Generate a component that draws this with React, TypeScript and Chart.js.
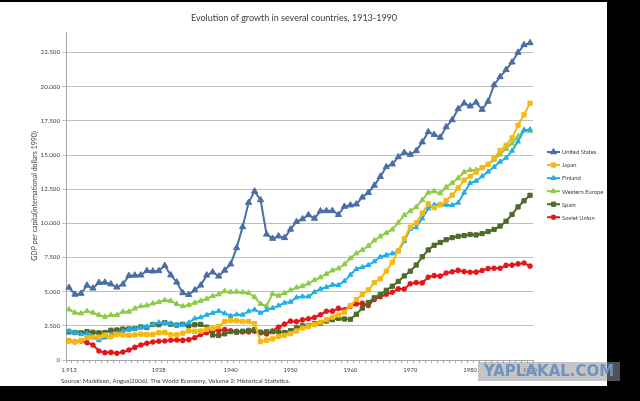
import React, { useEffect, useRef } from "react";
import { Chart, registerables } from "chart.js";
import { drawPoint } from "chart.js/helpers";

Chart.register(...registerables);

const YEARS = [
  1913, 1914, 1915, 1916, 1917, 1918, 1919, 1920, 1921, 1922,
  1923, 1924, 1925, 1926, 1927, 1928, 1929, 1930, 1931, 1932,
  1933, 1934, 1935, 1936, 1937, 1938, 1939, 1940, 1941, 1942,
  1943, 1944, 1945, 1946, 1947, 1948, 1949, 1950, 1951, 1952,
  1953, 1954, 1955, 1956, 1957, 1958, 1959, 1960, 1961, 1962,
  1963, 1964, 1965, 1966, 1967, 1968, 1969, 1970, 1971, 1972,
  1973, 1974, 1975, 1976, 1977, 1978, 1979, 1980, 1981, 1982,
  1983, 1984, 1985, 1986, 1987, 1988, 1989, 1990,
];

const X_TICK_YEARS = [1913, 1928, 1940, 1950, 1960, 1970, 1980, 1990];
const X_TICK_TEXT = ["1.913", "1928", "1940", "1950", "1960", "1970", "1980", "1990"];
const Y_TICKS = [0, 2500, 5000, 7500, 10000, 12500, 15000, 17500, 20000, 22500];

const TITLE = "Evolution of growth in several countries, 1913-1990";
const Y_TITLE = "GDP per capita(international dollars 1990)";
const SOURCE = "Source: Maddison, Angus(2006). The World Economy, Volume 2: Historical Statistics.";

const SERIES_NAMES = ["United States", "Japan", "Finland", "Western Europe", "Spain", "Soviet Union"];

const UNITED_STATES = [
  5301, 4799, 4864, 5459, 5248, 5659, 5680, 5552, 5323, 5540,
  6164, 6195, 6205, 6534, 6497, 6523, 6899, 6213, 5691, 4908,
  4777, 5114, 5467, 6204, 6430, 6126, 6561, 7010, 8206, 9741,
  11518, 12341, 11709, 9197, 8886, 9065, 8944, 9561, 10116, 10316,
  10613, 10359, 10897, 10914, 10920, 10631, 11230, 11328, 11402, 11905,
  12242, 12773, 13419, 14134, 14330, 14863, 15179, 15030, 15304, 15944,
  16689, 16491, 16284, 17052, 17567, 18373, 18789, 18577, 18856, 18325,
  18920, 20123, 20717, 21236, 21788, 22499, 23059, 23201,
];

const JAPAN = [
  1387, 1327, 1430, 1630, 1665, 1668, 1827, 1696, 1860, 1831,
  1809, 1829, 1885, 1872, 1870, 1992, 2026, 1850, 1837, 1962,
  2122, 2098, 2120, 2244, 2315, 2449, 2816, 2874, 2873, 2818,
  2822, 2659, 1346, 1444, 1541, 1725, 1800, 1921, 2126, 2336,
  2474, 2582, 2771, 2948, 3136, 3289, 3500, 3986, 4426, 4777,
  5129, 5668, 5934, 6506, 7152, 7983, 8874, 9714, 10040, 10734,
  11434, 11145, 11344, 11669, 12064, 12585, 13163, 13428, 13754, 14078,
  14307, 14773, 15332, 15713, 16251, 17185, 17943, 18789,
];

const FINLAND = [
  2111, 1998, 1880, 1924, 1653, 1433, 1642, 1846, 1943, 2116,
  2238, 2276, 2372, 2431, 2606, 2742, 2717, 2666, 2566, 2555,
  2725, 3036, 3114, 3296, 3441, 3589, 3408, 3220, 3327, 3309,
  3563, 3684, 3450, 3672, 3796, 3981, 4184, 4253, 4572, 4641,
  4642, 4970, 5197, 5329, 5499, 5480, 5769, 6230, 6658, 6784,
  6941, 7208, 7546, 7680, 7790, 7949, 8697, 9577, 9703, 10360,
  11085, 11357, 11370, 11348, 11321, 11507, 12241, 12949, 13102, 13443,
  13777, 14118, 14504, 14793, 15307, 15984, 16795, 16866,
];

const WESTERN_EUROPE = [
  3700, 3460, 3410, 3580, 3460, 3290, 3160, 3290, 3290, 3530,
  3530, 3770, 3940, 3990, 4140, 4240, 4380, 4330, 4090, 3940,
  4020, 4190, 4330, 4480, 4680, 4800, 5040, 4970, 5000, 4960,
  4900, 4600, 4100, 3950, 4850, 4700, 4900, 5100, 5300, 5400,
  5600, 5850, 6050, 6300, 6550, 6700, 7000, 7450, 7800, 8050,
  8350, 8750, 9050, 9300, 9550, 10050, 10600, 10900, 11200, 11700,
  12250, 12350, 12200, 12650, 12950, 13300, 13750, 13900, 13900, 14050,
  14300, 14650, 15050, 15450, 15850, 16350, 16850, 16750,
];

const SPAIN = [
  2056, 2012, 1988, 2082, 2029, 1987, 2011, 2177, 2197, 2263,
  2271, 2299, 2420, 2377, 2597, 2583, 2739, 2620, 2556, 2612,
  2502, 2577, 2606, 2400, 1826, 1792, 1915, 2080, 2031, 2105,
  2170, 2222, 2035, 2064, 2074, 2043, 2005, 2140, 2350, 2500,
  2500, 2650, 2700, 2850, 2950, 3050, 3000, 2980, 3350, 3800,
  4200, 4550, 4800, 5100, 5400, 5750, 6150, 6500, 6950, 7550,
  8050, 8400, 8600, 8800, 8950, 9050, 9100, 9180, 9150, 9250,
  9400, 9550, 9800, 10150, 10650, 11200, 11650, 12050,
];

const SOVIET_UNION = [
  1410, 1340, 1390, 1270, 1100, 660, 540, 560, 490, 580,
  730, 925, 1100, 1220, 1315, 1370, 1386, 1448, 1462, 1439,
  1493, 1630, 1864, 1991, 2150, 2150, 2237, 2144, 2100, 2050,
  2050, 2100, 2000, 1913, 2126, 2402, 2623, 2841, 2806, 2937,
  3013, 3106, 3313, 3566, 3576, 3777, 3669, 3945, 4098, 4140,
  3985, 4439, 4626, 4806, 4955, 5202, 5190, 5575, 5667, 5643,
  6059, 6176, 6136, 6363, 6454, 6559, 6472, 6426, 6432, 6544,
  6694, 6715, 6708, 6924, 6943, 7032, 7098, 6871,
];

const SERIES_VALUES = [UNITED_STATES, JAPAN, FINLAND, WESTERN_EUROPE, SPAIN, SOVIET_UNION];
const SERIES_COLORS = ["#4A6FA5", "#F5B814", "#22AEE6", "#8FCB4A", "#4E6B2A", "#E3171B"];
const SERIES_POINTS = ["triangle", "rect", "triangle", "triangle", "rect", "star"];
const SERIES_RADIUS = [3.6, 3.0, 2.8, 3.0, 3.0, 2.8];

const FONT = "Lato, 'Liberation Sans', sans-serif";
const TEXT_COLOR = "#404040";

function fmtThousands(v: number): string {
  if (v === 0) return "0";
  const th = Math.floor(v / 1000);
  const rest = String(v % 1000).padStart(3, "0");
  return th + "." + rest;
}

const textPlugin = {
  id: "textAndLegend",
  afterDraw(chart: any) {
    const ctx = chart.ctx;
    ctx.save();
    ctx.fillStyle = TEXT_COLOR;
    ctx.font = `9px ${FONT}`;
    ctx.textAlign = "center";
    ctx.textBaseline = "middle";
    ctx.fillText(TITLE, 294, 16.5);
    ctx.font = `6.2px ${FONT}`;
    ctx.textAlign = "left";
    ctx.fillText(SOURCE, 61, 379);
    chart.data.datasets.forEach((ds: any, i: number) => {
      const y = 150 + 13.05 * i;
      ctx.strokeStyle = ds.borderColor;
      ctx.lineWidth = 2;
      ctx.beginPath();
      ctx.moveTo(547, y);
      ctx.lineTo(560, y);
      ctx.stroke();
      ctx.fillStyle = ds.pointBackgroundColor;
      ctx.strokeStyle = ds.pointBorderColor;
      ctx.lineWidth = ds.pointBorderWidth;
      drawPoint(ctx, { pointStyle: ds.pointStyle, rotation: 0, radius: ds.pointRadius, borderWidth: ds.pointBorderWidth }, 553.5, y);
      ctx.fillStyle = TEXT_COLOR;
      ctx.font = `5.8px ${FONT}`;
      ctx.textAlign = "left";
      ctx.textBaseline = "middle";
      ctx.fillText(ds.label, 562, y + 0.5);
    });
    ctx.restore();
  },
};

export default function App() {
  const canvasRef = useRef<HTMLCanvasElement | null>(null);

  useEffect(() => {
    const canvas = canvasRef.current;
    if (!canvas) return;
    const datasets = SERIES_NAMES.map((name, i) => ({
      label: name,
      data: SERIES_VALUES[i],
      borderColor: SERIES_COLORS[i],
      backgroundColor: SERIES_COLORS[i],
      pointBackgroundColor: SERIES_COLORS[i],
      pointBorderColor: SERIES_COLORS[i],
      pointBorderWidth: SERIES_POINTS[i] === "star" ? 1.6 : 1,
      pointStyle: SERIES_POINTS[i],
      pointRadius: SERIES_RADIUS[i],
      borderWidth: 2,
      tension: 0,
      fill: false,
    }));
    const chart = new Chart(canvas, {
      type: "line",
      data: { labels: YEARS.map(String), datasets },
      options: {
        animation: false,
        responsive: false,
        devicePixelRatio: 1,
        layout: { padding: { left: 0, right: 74, top: 30, bottom: 0 } },
        plugins: {
          legend: { display: false },
          tooltip: { enabled: false },
          title: { display: false },
        },
        scales: {
          x: {
            type: "category",
            offset: true,
            grid: {
              display: true,
              drawOnChartArea: false,
              drawTicks: true,
              tickLength: 3,
              color: "#A6A6A6",
              offset: true,
            },
            border: { color: "#A6A6A6", width: 1 },
            ticks: {
              autoSkip: false,
              maxRotation: 0,
              minRotation: 0,
              padding: 3,
              color: TEXT_COLOR,
              font: { family: FONT, size: 6 },
              callback: (_v: any, idx: number) => {
                const k = X_TICK_YEARS.indexOf(YEARS[idx]);
                return k >= 0 ? X_TICK_TEXT[k] : "";
              },
            },
            afterFit: (s: any) => {
              s.height = 26;
            },
          },
          y: {
            min: 0,
            max: 24000,
            afterBuildTicks: (s: any) => {
              s.ticks = Y_TICKS.map((v) => ({ value: v }));
            },
            afterFit: (s: any) => {
              s.width = 66;
            },
            grid: { color: "#BFBFBF", tickLength: 4, drawTicks: true },
            border: { color: "#A6A6A6", width: 1 },
            ticks: {
              padding: 2,
              color: TEXT_COLOR,
              font: { family: FONT, size: 6.2 },
              callback: (v: any) => fmtThousands(Number(v)),
            },
            title: {
              display: true,
              text: Y_TITLE,
              color: TEXT_COLOR,
              font: { family: FONT, size: 7 },
              padding: { top: 31, bottom: 0 },
            },
          },
        },
      } as any,
      plugins: [textPlugin],
    });
    return () => chart.destroy();
  }, []);

  return (
    <div style={{ position: "fixed", left: 0, top: 0, right: 0, bottom: 0, background: "#000", overflow: "hidden" }}>
      <div style={{ position: "absolute", left: 0, top: 2, width: 607, height: 384, background: "#fff" }}>
        <canvas ref={canvasRef} width={607} height={384} style={{ width: 607, height: 384, display: "block" }} />
      </div>
      <div
        style={{
          position: "absolute",
          left: 478,
          top: 362,
          width: 142,
          height: 19,
          background: "rgba(150,150,150,0.55)",
          color: "#6F93C0",
          fontFamily: "'DejaVu Sans', sans-serif",
          fontWeight: 700,
          fontSize: 15,
          lineHeight: "19px",
          textAlign: "center",
          letterSpacing: 0,
        }}
      >
        YAPLAKAL.COM
      </div>
    </div>
  );
}
